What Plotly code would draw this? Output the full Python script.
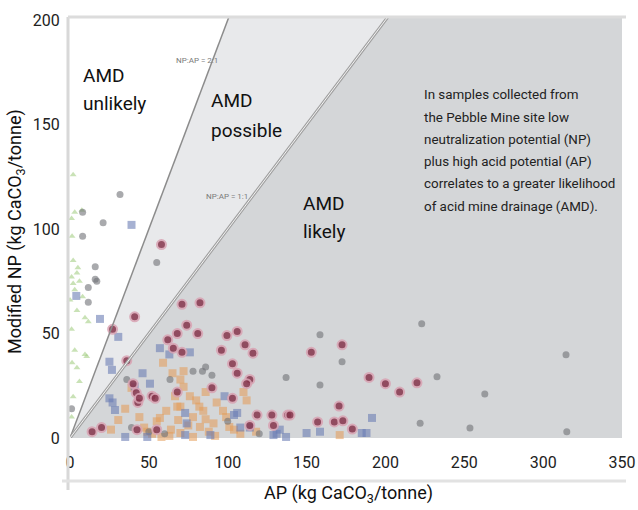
import plotly.graph_objects as go

# ---- data ----
maroon_x = [71, 82.4, 74, 68, 81, 99.5, 106, 65.5, 71, 96, 111, 116, 103, 106, 114, 112, 90, 103,
            118.6, 128, 138, 129, 114, 68, 41, 27, 36, 42, 40, 43, 52, 44, 54, 14, 20, 42.5, 55,
            153, 172.5, 189.6, 200, 209, 220, 170.6, 167.6, 173, 179, 139.5, 58, 62, 157, 248.5]
maroon_y = [64, 64.7, 54, 50, 50, 49, 51, 43, 41, 42, 44.6, 40.6, 35.5, 31, 28, 26, 24, 19,
            11, 11, 11, 6, 6, 22, 58, 52, 37, 21.6, 26, 17, 20, 19, 19, 3, 5, 4, 4,
            41, 44.6, 29, 26, 22, 26.4, 15.3, 7.7, 8.2, 4.3, 11, 92.6, 47, 7.7, -4]

blue_x = [30.6, 25, 26.6, 57, 46, 50.7, 41, 25, 28.5, 63, 76, 73, 106, 108, 114, 129, 137, 89, 73,
          35, 49, 185, 188, 158.5, 150, 27, 104, 74, 131, 19, 4, 39, 191.5, 133, 98]
blue_y = [48.4, 36.5, 32.6, 43, 31, 26, 24.6, 19, 13.4, 40, 41, 12, 12, 5, 5, 1.4, 0.5, 1.4, 1.4,
          0.5, 0.5, 2.4, 2.4, 3, 2.4, 17, 11, 7, 2, 57, 68, 102, 9.6, 4, 20]

orange_x = [39, 70, 72, 66.6, 76, 80, 70, 84.5, 93, 97, 78, 68.6, 91, 82.4, 101, 70, 78, 95, 122,
            59, 72, 61, 55, 44, 30.6, 68, 57, 82, 112, 47, 52, 88, 104, 63, 86, 75, 99, 108, 64,
            49, 58, 92, 118, 35, 26, 110, 86, 65, 171]
orange_y = [24, 28, 24.5, 20, 20, 18, 15, 13, 17, 13, 10, 8.6, 7, 5.3, 5.3, 2.4, 0.5, -1, -2,
            36, 32, 13, 8, 10, 8.6, 15, 9.6, 15, 18, 5, 2, 3, 4, 1, 9, 6, 10, 2, 4,
            3, 0.5, 1, 3, 14, 4, 22, 22, 31, 1.4]

grey_x = [31.7, 21, 8, 8, 16, 16, 11.6, 11.6, 55, 17, 36, 39, 1, 137, 158.5, 172.5, 158.5, 223,
          232.7, 263, 253.6, 314.5, 315, 257, 273, 222, 78, 84, 90, 86, 50, 60, 100, 120, 63.4]
grey_y = [116.5, 103, 108, 96.6, 82, 76, 72, 65, 84, 75, 28, 5, 14, 29, 49.4, 36.5, 25.4, 54.7,
          29.3, 21, 4.8, 39.8, 3, -1, -0.5, 7, 32, 32, 30, 34, 3, 2, 8, 2, 28]

green_x = [2, 3, 1.3, 2, 5, 1, 6, 3, 0, 8, 4.4, 9.5, 11.6, 1, 3, 10.6, 4.4, 6, 2, 1, 1.3, 4.4,
           9.5, 7.5, 1, 2]
green_y = [126, 108, 96.6, 85, 81.5, 77, 75, 71, 66, 67.6, 61, 57.5, 55.6, 52, 42, 39, 33.6, 27,
           19.7, 10, 36, 79, 40, 109, 105, 74]

ratio_lines = [2, 1]          # NP:AP = 2:1 and 1:1
ratio_labels = ["NP:AP = 2:1", "NP:AP = 1:1"]
x_ticks = [0, 50, 100, 150, 200, 250, 300, 350]
y_ticks = [0, 50, 100, 150, 200]

zone_labels = [["AMD", "unlikely"], ["AMD", "possible"], ["AMD", "likely"]]
note_lines = ["In samples collected from",
              "the Pebble Mine site low",
              "neutralization potential (NP)",
              "plus high acid potential (AP)",
              "correlates to a greater likelihood",
              "of acid mine drainage (AMD)."]

XMAX = 350
YMAX = 201.5

FONT = "Roboto, sans-serif"

fig = go.Figure()

# zones
r1, r2 = ratio_lines
fig.add_shape(type="path", xref="x", yref="y", layer="below", line=dict(width=0),
              fillcolor="#e8e9eb",
              path=f"M 0 0 L {YMAX / r1} {YMAX} L {YMAX / r2} {YMAX} Z")
fig.add_shape(type="path", xref="x", yref="y", layer="below", line=dict(width=0),
              fillcolor="#d4d6d8",
              path=f"M 0 0 L {YMAX / r2} {YMAX} L {XMAX} {YMAX} L {XMAX} 0 Z")

# ratio lines
fig.add_shape(type="line", xref="x", yref="y", x0=0, y0=0, x1=YMAX / r1, y1=YMAX,
              line=dict(color="#8c8c8c", width=1.5))
fig.add_shape(type="line", xref="x", yref="y", x0=0, y0=0, x1=YMAX / r2, y1=YMAX,
              line=dict(color="#a0a0a0", width=3))
fig.add_shape(type="line", xref="x", yref="y", x0=0, y0=0, x1=YMAX / r2, y1=YMAX,
              line=dict(color="#f4f4f4", width=1))

# frame (light grey)
W, H = 552, 421
def px(xp):
    return (xp - 70) / W
def py(yp):
    return (438 - yp) / H
fig.add_shape(type="line", xref="paper", yref="paper", x0=px(68), x1=px(68), y0=py(490), y1=py(17),
              line=dict(color="#d8d8d8", width=3))
fig.add_shape(type="line", xref="paper", yref="paper", x0=px(68), x1=px(626), y0=py(17), y1=py(17),
              line=dict(color="#dcdcdc", width=3))
fig.add_shape(type="line", xref="paper", yref="paper", x0=px(62), x1=px(626), y0=py(481), y1=py(481),
              line=dict(color="#e2e2e2", width=3))

def add(x, y, color, symbol, size, opacity, line_color=None, line_w=0):
    fig.add_trace(go.Scatter(x=x, y=y, mode="markers", cliponaxis=False, showlegend=False,
                             hoverinfo="skip",
                             marker=dict(color=color, symbol=symbol, size=size, opacity=opacity,
                                         line=dict(color=line_color or color, width=line_w))))

add(green_x, green_y, "#a5cf85", "triangle-up", 6, 0.6)
add(orange_x, orange_y, "#e49a56", "square", 8, 0.55)
add(grey_x, grey_y, "#6f7176", "circle", 7, 0.6)
add(blue_x, blue_y, "#6a7db4", "square", 8, 0.6)
add(maroon_x, maroon_y, "#86354c", "circle", 9, 0.85, "#d9a3b3", 2)

ann = []
def text_at(xp, yp, s, size, color="#111", anchor="left", angle=0):
    ann.append(dict(x=px(xp), y=py(yp), xref="paper", yref="paper", xanchor=anchor, yanchor="middle",
                    text=s, showarrow=False, textangle=angle,
                    font=dict(family=FONT, size=size, color=color)))

# zone labels (two lines each)
zone_pos = [(81, 75, 103), (209, 100, 130), (301, 203, 231)]
for (xl, y1, y2), (a, b) in zip(zone_pos, zone_labels):
    text_at(xl, y1, a, 19)
    text_at(xl, y2, b, 19)

# note paragraph
note_y = [95, 117, 139, 161, 183, 206]
for yy, s in zip(note_y, note_lines):
    text_at(422, yy, s, 13.4, "#222")

# ratio labels
text_at(197, 60, ratio_labels[0], 8, "#7a7a7a", "center")
text_at(227, 196, ratio_labels[1], 8, "#7a7a7a", "center")

# axis titles
text_at(348, 494, "AP (kg CaCO<sub>3</sub>/tonne)", 18, "#111", "center")
text_at(16, 232, "Modified NP (kg CaCO<sub>3</sub>/tonne)", 18, "#111", "center", -90)

fig.update_layout(
    width=638, height=510,
    margin=dict(l=70, r=16, t=17, b=72, autoexpand=False),
    paper_bgcolor="white", plot_bgcolor="white",
    annotations=ann,
    xaxis=dict(range=[0, XMAX], tickvals=x_ticks, showgrid=False, zeroline=False, showline=False,
               ticks="outside", ticklen=10, tickcolor="rgba(0,0,0,0)", automargin=False,
               tickfont=dict(family=FONT, size=16, color="#222")),
    yaxis=dict(range=[0, YMAX], tickvals=y_ticks, showgrid=False, zeroline=False, showline=False,
               ticks="outside", ticklen=6, tickcolor="rgba(0,0,0,0)", automargin=False,
               tickfont=dict(family=FONT, size=16, color="#222")),
)

fig.write_html("out.html", config={"displayModeBar": False},
               post_script="document.body.style.margin='0px';document.body.style.overflow='hidden';")
